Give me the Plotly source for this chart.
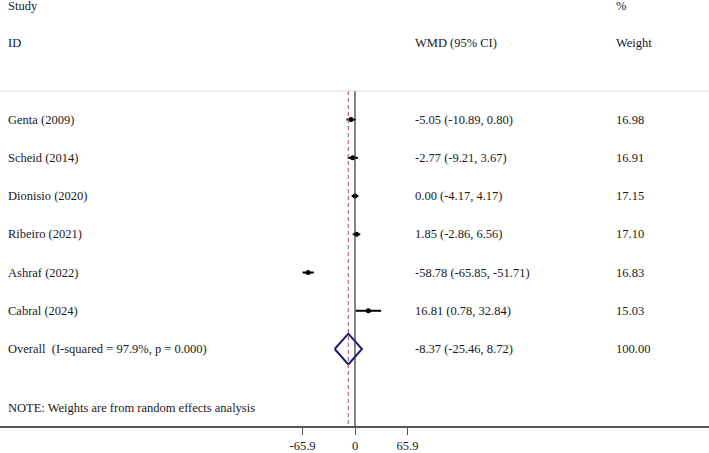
import plotly.graph_objects as go

studies = ["Genta (2009)", "Scheid (2014)", "Dionisio (2020)", "Ribeiro (2021)", "Ashraf (2022)", "Cabral (2024)"]
es = [-5.05, -2.77, 0.00, 1.85, -58.78, 16.81]
lo = [-10.89, -9.21, -4.17, -2.86, -65.85, 0.78]
hi = [0.80, 3.67, 4.17, 6.56, -51.71, 32.84]
weights = [16.98, 16.91, 17.15, 17.10, 16.83, 15.03]

overall_label = "Overall\u00a0 (I-squared = 97.9%, p = 0.000)"
overall_es = -8.37
overall_lo = -25.46
overall_hi = 8.72
overall_w = 100.00

tick_vals = [-65.9, 0, 65.9]
tick_text = ["-65.9", "0", "65.9"]

FONT = "Liberation Serif, Times New Roman, serif"
FS = 12.5
TXT = "#1a1a1a"

W, H = 709, 453
zero_px = 355.0
ppu = 0.797
xmin = -zero_px / ppu
xmax = (W - zero_px) / ppu

row0_px = 120.7
row_h = 38.6
plot_h = 430
ytop = (0 - row0_px) / row_h
ybot = (plot_h - row0_px) / row_h

fig = go.Figure()

rows = list(range(len(studies)))
# CI lines
for i in rows:
    fig.add_trace(go.Scatter(x=[lo[i], hi[i]], y=[i, i], mode="lines",
                             line=dict(color="black", width=2), showlegend=False, hoverinfo="skip"))
fig.add_trace(go.Scatter(x=es, y=rows, mode="markers",
                         marker=dict(symbol="circle", size=5, color="black"),
                         showlegend=False))

ov_row = len(studies)
h = 15.5 / row_h
fig.add_trace(go.Scatter(x=[overall_lo, overall_es, overall_hi, overall_es, overall_lo],
                         y=[ov_row, ov_row - h, ov_row, ov_row + h, ov_row],
                         mode="lines", line=dict(color="#1c1c78", width=2),
                         showlegend=False, hoverinfo="skip"))

line_top = -0.75
# vertical null line
fig.add_shape(type="line", xref="x", yref="y", x0=0, x1=0, y0=line_top, y1=ybot,
              line=dict(color="#333333", width=1.2))
# overall dashed line
fig.add_shape(type="line", xref="x", yref="y", x0=overall_es, x1=overall_es, y0=line_top, y1=ybot,
              line=dict(color="#c0607a", width=1.2, dash="4px,3px"))
# faint top rule
fig.add_shape(type="line", xref="paper", yref="y", x0=0, x1=1, y0=line_top, y1=line_top,
              line=dict(color="#dcdcdc", width=1))

def txt(x_px, y, s):
    fig.add_annotation(x=x_px / W, xref="paper", y=y, yref="y", text=s, showarrow=False,
                       xanchor="left", yanchor="middle", font=dict(family=FONT, size=FS, color=TXT))

txt(6, -2.97, "Study")
txt(6, -2, "ID")
txt(413, -2, "WMD (95% CI)")
txt(614, -2.97, "%")
txt(614, -2, "Weight")

for i in rows:
    txt(6, i, studies[i])
    txt(413, i, f"{es[i]:.2f} ({lo[i]:.2f}, {hi[i]:.2f})")
    txt(614, i, f"{weights[i]:.2f}")

txt(6, ov_row, overall_label)
txt(413, ov_row, f"{overall_es:.2f} ({overall_lo:.2f}, {overall_hi:.2f})")
txt(614, ov_row, f"{overall_w:.2f}")
txt(6, 7.54, "NOTE: Weights are from random effects analysis")

fig.update_layout(
    width=W, height=H,
    margin=dict(l=0, r=0, t=0, b=H - plot_h),
    paper_bgcolor="white", plot_bgcolor="white",
    xaxis=dict(range=[xmin, xmax], showgrid=False, zeroline=False,
               showline=True, linecolor="#555555", linewidth=1.5,
               tickmode="array", tickvals=tick_vals, ticktext=tick_text,
               ticks="outside", ticklen=7, tickcolor="#555555", tickwidth=1,
               tickfont=dict(family=FONT, size=FS, color=TXT)),
    yaxis=dict(range=[ybot, ytop], showgrid=False, zeroline=False,
               showticklabels=False, showline=False),
    showlegend=False,
)

fig.write_html("out.html")
